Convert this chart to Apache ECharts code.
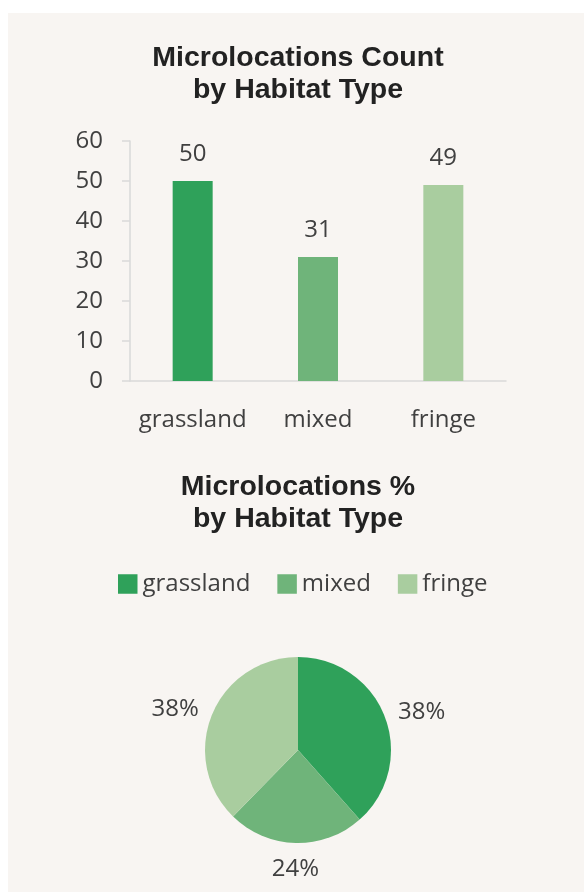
<!DOCTYPE html>
<html>
<head>
<meta charset="utf-8">
<script src="https://cdn.jsdelivr.net/npm/echarts@6/dist/echarts.min.js"></script>
<style>
html,body{margin:0;padding:0;background:#ffffff;}
#wrap{position:relative;width:584px;height:892px;overflow:hidden;}
#panel{position:absolute;left:8px;top:13px;width:576px;height:879px;background:#f8f5f2;}
#c{position:absolute;left:0;top:0;width:584px;height:892px;}
</style>
</head>
<body>
<div id="wrap"><div id="panel"></div><div id="c"></div></div>
<script>
// ---- data ----
const categories = ['grassland', 'mixed', 'fringe'];
const counts = [50, 31, 49];
const yMin = 0, yMax = 60, yInterval = 10;
const barTitle = 'Microlocations Count\nby Habitat Type';
const pieTitle = 'Microlocations %\nby Habitat Type';

// ---- styles ----
const colors = ['#2fa15a', '#6fb47a', '#a9cd9f'];
const labelFont = 'Open Sans';
const titleFont = 'Liberation Sans';
const textColor = '#404040';
const axisColor = '#d9d9d9';

const chart = echarts.init(document.getElementById('c'), null, {renderer: 'canvas'});

const barData = counts.map((v, i) => ({value: v, itemStyle: {color: colors[i]}}));
const pieData = categories.map((c, i) => ({name: c, value: counts[i], itemStyle: {color: colors[i]}}));

const titleStyle = {
  fontFamily: titleFont, fontWeight: 'bold', fontSize: 28.5,
  lineHeight: 32, color: '#222222'
};

chart.setOption({
  backgroundColor: 'transparent',
  animation: false,
  title: [
    {text: barTitle, left: 298, textAlign: 'center', top: 42, padding: 0, textStyle: titleStyle},
    {text: pieTitle, left: 298, textAlign: 'center', top: 471, padding: 0, textStyle: titleStyle}
  ],
  legend: {
    data: categories,
    left: 118, top: 572, padding: 0,
    icon: 'rect', itemWidth: 19.5, itemHeight: 19.5, itemGap: 27,
    textStyle: {fontFamily: labelFont, fontSize: 24, color: textColor}
  },
  grid: {left: 130, right: 78, top: 141, bottom: 892 - 381, containLabel: false},
  xAxis: {
    type: 'category', data: categories,
    axisLine: {show: true, lineStyle: {color: axisColor, width: 1.5}},
    axisTick: {show: false},
    axisLabel: {interval: 0, fontFamily: labelFont, fontSize: 24, color: textColor, margin: 27}
  },
  yAxis: {
    type: 'value', min: yMin, max: yMax, interval: yInterval,
    axisLine: {show: true, lineStyle: {color: axisColor, width: 1.5}},
    axisTick: {show: true, length: 8, lineStyle: {color: axisColor, width: 1.5}},
    splitLine: {show: false},
    axisLabel: {fontFamily: labelFont, fontSize: 24, color: textColor, margin: 27}
  },
  series: [
    {
      type: 'bar', data: barData, barWidth: 40,
      label: {show: true, position: 'top', distance: 15, fontFamily: labelFont, fontSize: 24, color: textColor}
    },
    {
      type: 'pie', center: [298, 750], radius: 93, startAngle: 90, clockwise: true,
      data: pieData, avoidLabelOverlap: false,
      label: {
        show: true, position: 'outside', distanceToLabelLine: 0,
        fontFamily: labelFont, fontSize: 24, color: textColor,
        formatter: p => Math.round(p.percent) + '%'
      },
      labelLine: {show: false, length: 14, length2: 0},
      labelLayout: p => (p.dataIndex === 1 ? {align: 'center', verticalAlign: 'top'} : {}),
      emphasis: {disabled: true}
    }
  ]
});
</script>
</body>
</html>
